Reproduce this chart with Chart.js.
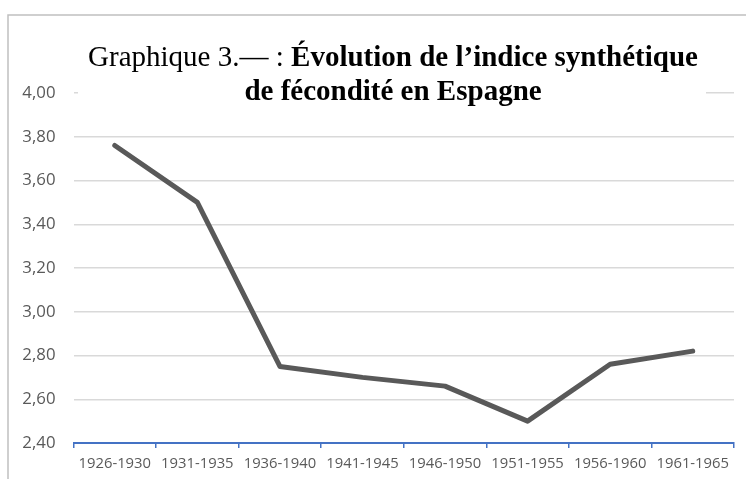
<!DOCTYPE html>
<html lang="fr">
<head>
<meta charset="utf-8">
<script src="https://cdn.jsdelivr.net/npm/chart.js@4/dist/chart.umd.min.js"></script>
<style>
  html, body { margin: 0; padding: 0; background: #fff; }
  #cadre { width: 746px; height: 479px; }
</style>
</head>
<body>
<div id="cadre"><canvas id="grafico" width="746" height="479"></canvas></div>
<script>
// données
const periodes = ["1926-1930", "1931-1935", "1936-1940", "1941-1945", "1946-1950", "1951-1955", "1956-1960", "1961-1965"];
const indice = [3.76, 3.50, 2.75, 2.70, 2.66, 2.50, 2.76, 2.82];
const graduations = [2.40, 2.60, 2.80, 3.00, 3.20, 3.40, 3.60, 3.80, 4.00];

const titreNormal = "Graphique 3.— : ";
const titreGras = "Évolution de l’indice synthétique";
const titreLigne2 = "de fécondité en Espagne";

const grisTexte = "#595959";
const bleuAxe = "#4472c4";

// bordure grise en haut et à gauche
const pluginBordure = {
    id: "bordure",
    beforeDraw(chart) {
        const ctx = chart.ctx;
        ctx.save();
        ctx.strokeStyle = "#c0c0c0";
        ctx.lineWidth = 1.5;
        ctx.beginPath();
        ctx.moveTo(8, chart.height);
        ctx.lineTo(8, 15);
        ctx.lineTo(chart.width, 15);
        ctx.stroke();
        ctx.restore();
    }
};

// titre posé sur la zone du graphique, avec un fond blanc
const pluginTitre = {
    id: "titre",
    afterDraw(chart) {
        const ctx = chart.ctx;
        const centre = 393;
        const taille = 29;
        ctx.save();
        ctx.fillStyle = "#fff";
        ctx.fillRect(78, 32, 628, 78);

        ctx.fillStyle = "#000";
        ctx.textBaseline = "alphabetic";
        ctx.textAlign = "left";

        ctx.font = taille + "px 'Liberation Serif'";
        const l1 = ctx.measureText(titreNormal).width;
        ctx.font = "bold " + taille + "px 'Liberation Serif'";
        const l2 = ctx.measureText(titreGras).width;
        let x = centre - (l1 + l2) / 2;
        ctx.font = taille + "px 'Liberation Serif'";
        ctx.fillText(titreNormal, x, 66);
        ctx.font = "bold " + taille + "px 'Liberation Serif'";
        ctx.fillText(titreGras, x + l1, 66);

        ctx.textAlign = "center";
        ctx.fillText(titreLigne2, centre, 100);
        ctx.restore();
    }
};

const ctx = document.getElementById("grafico").getContext("2d");
const grafico = new Chart(ctx, {
    type: "line",
    data: {
        labels: periodes,
        datasets: [{
            data: indice,
            borderColor: grisTexte,
            borderWidth: 5,
            pointRadius: 0,
            borderJoinStyle: "round",
            borderCapStyle: "round",
            tension: 0
        }]
    },
    options: {
        responsive: false,
        animation: false,
        devicePixelRatio: 1,
        layout: { padding: { top: 93, right: 12, left: 0, bottom: 0 } },
        plugins: {
            legend: { display: false },
            tooltip: { enabled: false },
            title: { display: false }
        },
        scales: {
            x: {
                offset: true,
                grid: {
                    offset: true,
                    drawOnChartArea: false,
                    tickLength: 5,
                    color: bleuAxe,
                    lineWidth: 1.5
                },
                border: { color: bleuAxe, width: 2 },
                ticks: {
                    color: grisTexte,
                    font: { family: "Open Sans", size: 14.8 },
                    padding: 7,
                    maxRotation: 0,
                    autoSkip: false
                },
                afterFit(s) { s.height = 36; }
            },
            y: {
                min: 2.4,
                max: 4.0,
                afterBuildTicks(s) {
                    s.ticks = graduations.map(v => ({ value: v }));
                },
                grid: { color: "#d9d9d9", lineWidth: 1.4, drawTicks: false },
                border: { display: false },
                ticks: {
                    padding: 18,
                    color: grisTexte,
                    font: { family: "Open Sans", size: 16.8 },
                    callback: v => v.toFixed(2).replace(".", ",")
                },
                afterFit(s) { s.width = 73.5; }
            }
        }
    },
    plugins: [pluginBordure, pluginTitre]
});
</script>
</body>
</html>
